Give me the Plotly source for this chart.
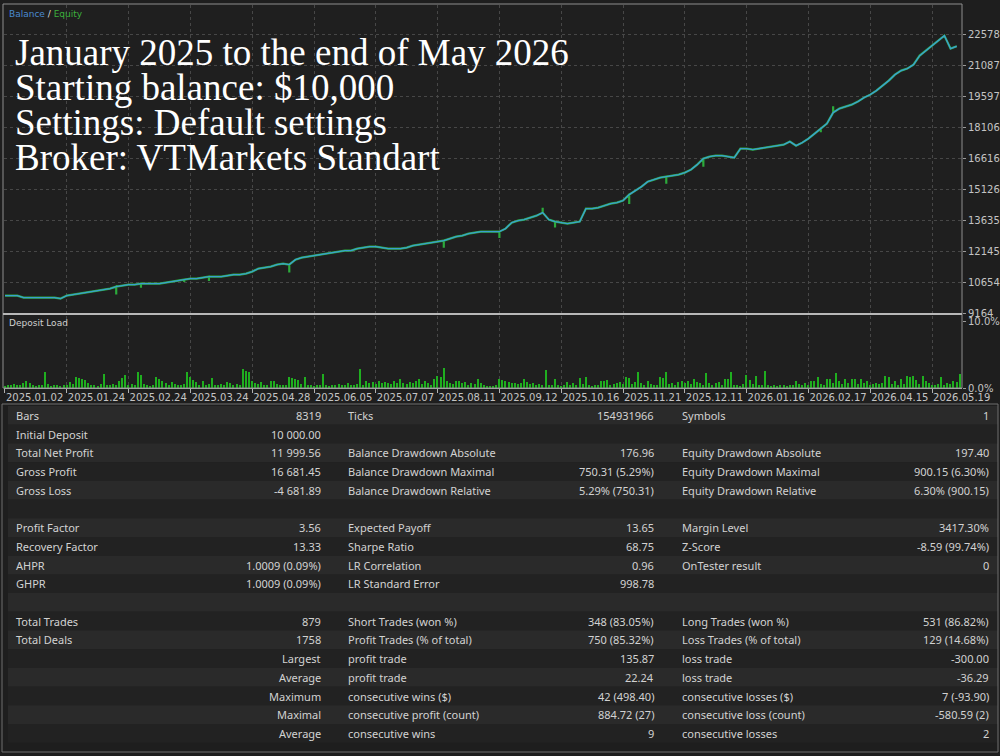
import plotly.graph_objects as go

# balance curve, one point per step of the tester chart
balance = [
    10000, 10000, 10000, 9904, 9904, 9904, 9904, 9904, 9904, 9856,
    10000, 10048, 10096, 10144, 10192, 10240, 10288, 10337, 10433, 10481,
    10529, 10529, 10577, 10577, 10577, 10577, 10625, 10673, 10721, 10769,
    10817, 10817, 10865, 10913, 10913, 10913, 10962, 11010, 11010, 11058,
    11154, 11298, 11346, 11394, 11490, 11539, 11490, 11731, 11827, 11875,
    11923, 11971, 12019, 12067, 12115, 12164, 12164, 12260, 12308, 12356,
    12356, 12308, 12260, 12260, 12260, 12308, 12404, 12452, 12500, 12548,
    12596, 12644, 12741, 12837, 12885, 12981, 13029, 13077, 13077, 13077,
    13077, 13221, 13510, 13606, 13654, 13750, 13846, 13990, 13654, 13558,
    13510, 13462, 13510, 13558, 14183, 14183, 14231, 14327, 14423, 14471,
    14568, 14856, 15048, 15241, 15481, 15577, 15673, 15721, 15770, 15818,
    15914, 16058, 16298, 16587, 16683, 16731, 16731, 16683, 16635, 17068,
    17068, 17020, 17068, 17116, 17164, 17212, 17260, 17404, 17212, 17356,
    17549, 17789, 18029, 18270, 18799, 18991, 19087, 19183, 19328, 19520,
    19664, 19856, 20097, 20337, 20625, 20818, 20914, 21106, 21539, 21779,
    22020, 22260, 22500, 21875, 21990,
]

# equity spikes away from balance (step index, equity value)
equity_dip_idx = [18, 22, 29, 33, 46, 71, 80, 87, 89, 101, 107, 113, 132, 134]
equity_dip_val = [10050, 10380, 10650, 10700, 11110, 12300, 12770, 14230,
                  13270, 14400, 15380, 16200, 17850, 19100]

# deposit load in %, two bars per step
deposit_load = [
    0.3, 0.5, 0.4, 0.6, 0.5, 0.4, 0.8, 1.0, 0.7, 0.4, 0.3, 0.5, 0.4, 2.4, 0.6, 0.3, 0.4, 0.5, 0.3, 0.4,
    0.5, 0.9, 0.6, 1.7, 1.5, 1.3, 1.2, 0.8, 0.4, 0.5, 0.3, 0.6, 2.1, 0.5, 0.4, 0.6, 0.5, 1.0, 1.5, 1.9,
    0.4, 0.6, 0.5, 2.4, 1.9, 0.6, 0.4, 0.3, 0.5, 1.6, 1.4, 1.0, 0.8, 0.5, 0.9, 0.6, 0.4, 0.5, 0.6, 2.4,
    1.7, 1.2, 0.9, 0.5, 1.0, 0.4, 0.6, 1.5, 0.5, 0.4, 0.6, 0.4, 0.9, 0.7, 0.5, 0.6, 0.4, 2.9, 2.6, 2.4,
    1.0, 0.8, 0.6, 0.9, 0.5, 0.4, 1.0, 1.1, 0.6, 0.5, 0.4, 0.5, 1.7, 1.5, 1.3, 1.2, 0.6, 1.6, 0.4, 0.5,
    0.3, 0.4, 0.5, 2.1, 0.4, 0.3, 0.5, 0.4, 0.6, 0.5, 0.4, 0.8, 0.5, 0.4, 0.6, 2.9, 0.5, 1.0, 0.8, 0.9,
    0.6, 1.0, 0.7, 0.9, 0.8, 0.6, 1.0, 0.7, 1.4, 0.8, 0.6, 0.9, 0.7, 1.0, 1.4, 0.6, 1.1, 0.8, 0.5, 1.4,
    1.8, 1.6, 3.0, 1.0, 0.8, 0.6, 1.0, 1.1, 0.7, 0.9, 0.5, 0.8, 0.6, 1.3, 0.7, 0.4, 0.3, 0.2, 0.3, 0.4,
    1.3, 1.2, 1.1, 0.9, 0.7, 0.8, 0.6, 0.8, 1.4, 0.9, 0.6, 0.8, 0.5, 0.6, 0.4, 2.7, 0.5, 0.4, 1.4, 0.5,
    0.3, 0.4, 0.9, 0.5, 0.7, 0.4, 1.5, 0.6, 1.6, 0.4, 0.3, 0.4, 0.5, 1.1, 1.0, 1.2, 0.5, 0.6, 0.8, 0.9,
    0.6, 1.7, 1.5, 0.6, 0.9, 2.4, 0.8, 0.5, 1.0, 0.6, 0.5, 0.4, 1.6, 1.5, 2.4, 0.6, 0.8, 0.5, 0.9, 1.0,
    0.7, 1.0, 0.6, 1.3, 0.9, 0.8, 0.5, 2.2, 0.8, 0.5, 0.8, 0.9, 0.4, 1.4, 1.3, 2.4, 0.5, 0.4, 0.3, 0.6,
    2.0, 1.2, 0.6, 1.8, 0.5, 0.4, 2.6, 0.4, 0.3, 0.4, 0.3, 0.5, 0.4, 0.3, 0.4, 0.5, 1.0, 0.6, 0.4, 0.8,
    0.5, 1.0, 1.1, 1.6, 0.6, 0.5, 1.4, 1.3, 0.7, 2.2, 1.0, 0.6, 1.4, 0.7, 1.3, 1.4, 0.6, 1.4, 0.8, 1.0,
    0.5, 0.6, 0.8, 0.6, 0.7, 1.8, 1.7, 0.6, 1.0, 0.5, 1.3, 0.6, 1.8, 1.6, 1.8, 1.2, 0.6, 1.8, 1.0, 0.7,
    0.4, 0.5, 0.6, 1.7, 0.5, 0.8, 0.6, 1.0, 0.9, 2.1,
]

date_labels = ["2025.01.02", "2025.01.24", "2025.02.24", "2025.03.24", "2025.04.28",
               "2025.06.05", "2025.07.07", "2025.08.11", "2025.09.12", "2025.10.16",
               "2025.11.21", "2025.12.11", "2026.01.16", "2026.02.17", "2026.04.15",
               "2026.05.19"]
balance_ticks = [9164, 10654, 12145, 13635, 15126, 16616, 18106, 19597, 21087, 22578]

title_lines = ["January 2025 to the end of May 2026", "Starting balance: $10,000",
               "Settings: Default settings", "Broker: VTMarkets Standart"]

# report table, 3 label/value column pairs
col1_labels = ["Bars", "Initial Deposit", "Total Net Profit", "Gross Profit", "Gross Loss", "",
               "Profit Factor", "Recovery Factor", "AHPR", "GHPR", "",
               "Total Trades", "Total Deals", "", "", "", "", ""]
col1_values = ["8319", "10 000.00", "11 999.56", "16 681.45", "-4 681.89", "",
               "3.56", "13.33", "1.0009 (0.09%)", "1.0009 (0.09%)", "",
               "879", "1758", "Largest", "Average", "Maximum", "Maximal", "Average"]
col2_labels = ["Ticks", "", "Balance Drawdown Absolute", "Balance Drawdown Maximal",
               "Balance Drawdown Relative", "", "Expected Payoff", "Sharpe Ratio",
               "LR Correlation", "LR Standard Error", "", "Short Trades (won %)",
               "Profit Trades (% of total)", "profit trade", "profit trade",
               "consecutive wins ($)", "consecutive profit (count)", "consecutive wins"]
col2_values = ["154931966", "", "176.96", "750.31 (5.29%)", "5.29% (750.31)", "",
               "13.65", "68.75", "0.96", "998.78", "", "348 (83.05%)", "750 (85.32%)",
               "135.87", "22.24", "42 (498.40)", "884.72 (27)", "9"]
col3_labels = ["Symbols", "", "Equity Drawdown Absolute", "Equity Drawdown Maximal",
               "Equity Drawdown Relative", "", "Margin Level", "Z-Score", "OnTester result",
               "", "", "Long Trades (won %)", "Loss Trades (% of total)", "loss trade",
               "loss trade", "consecutive losses ($)", "consecutive loss (count)",
               "consecutive losses"]
col3_values = ["1", "", "197.40", "900.15 (6.30%)", "6.30% (900.15)", "",
               "3417.30%", "-8.59 (99.74%)", "0", "", "", "531 (86.82%)", "129 (14.68%)",
               "-300.00", "-36.29", "7 (-93.90)", "-580.59 (2)", "2"]

W, H = 1000, 756
BG = "#1e1e1e"
TXT = "#d2d2d2"
AXTXT = "#c4c4c4"


def px(x):
    return x / W


def py(y):
    return 1 - y / H


# equity = balance plus thin vertical spikes
dips = dict(zip(equity_dip_idx, equity_dip_val))
eq_x, eq_y = [], []
for i, b in enumerate(balance):
    eq_x.append(i)
    eq_y.append(b)
    if i in dips:
        eq_x += [i, i]
        eq_y += [dips[i], b]

x_range = [-0.16, 154.85]
tick_idx = [10 * k for k in range(len(date_labels))]

fig = go.Figure()
fig.add_trace(go.Scatter(x=eq_x, y=eq_y, mode="lines", line=dict(color="#2caa3c", width=2.2),
                         hoverinfo="skip", xaxis="x", yaxis="y"))
fig.add_trace(go.Scatter(x=list(range(len(balance))), y=balance, mode="lines",
                         line=dict(color="#3a9fd0", width=1.4), xaxis="x", yaxis="y"))
fig.add_trace(go.Bar(x=[0.5 * i for i in range(len(deposit_load))], y=deposit_load, width=0.22,
                     marker=dict(color="#1fae1f", line=dict(width=0)), xaxis="x2", yaxis="y2"))

grid = dict(showgrid=True, gridcolor="#474747", griddash="dot", gridwidth=1, zeroline=False,
            automargin=False)

fig.update_layout(
    width=W, height=H, margin=dict(l=0, r=0, t=0, b=0, autoexpand=False),
    paper_bgcolor=BG, plot_bgcolor="#1f1f1f", showlegend=False, bargap=0,
    font=dict(family="DejaVu Sans", color=AXTXT, size=10),
    xaxis=dict(domain=[px(4), px(962)], range=x_range, tickvals=tick_idx, showticklabels=False,
               anchor="y", **grid),
    yaxis=dict(domain=[py(313), py(5)], range=[9164, 23973], tickvals=balance_ticks, side="right",
               tickformat="d", ticks="outside", ticklen=3, tickcolor="#9a9a9a",
               tickfont=dict(size=10, color=AXTXT), anchor="x", **grid),
    xaxis2=dict(domain=[px(4), px(962)], range=x_range, tickvals=tick_idx, ticktext=date_labels,
                ticks="outside", ticklen=4, tickcolor="#b0b0b0", ticklabelposition="outside right",
                tickangle=0, tickfont=dict(size=10, color=AXTXT), showline=True, linecolor="#b4b4b4",
                linewidth=1, anchor="y2", **grid),
    yaxis2=dict(domain=[py(388), py(316)], range=[0, 10.75], tickvals=[0, 10],
                ticktext=["0.0%", "10.0%"], side="right", ticks="outside", ticklen=3,
                tickcolor="#9a9a9a", showgrid=False, zeroline=False, anchor="x2", automargin=False,
                tickfont=dict(size=10, color=AXTXT)),
)

shapes = [
    # chart frame and separator between the two panes
    dict(type="rect", xref="paper", yref="paper", x0=px(3), x1=px(962), y0=py(388), y1=py(4),
         line=dict(color="#8e8e8e", width=1)),
    dict(type="line", xref="paper", yref="paper", x0=px(3), x1=px(962), y0=py(314), y1=py(314),
         line=dict(color="#b8b8b8", width=2)),
]

row_top, row_h = 406, 18.71
n_rows = len(col1_labels)
for r in range(n_rows):
    shapes.append(dict(type="rect", xref="paper", yref="paper", layer="below",
                       x0=px(8), x1=px(998), y0=py(row_top + row_h * (r + 1)), y1=py(row_top + row_h * r),
                       fillcolor="#2a2a2a" if r % 2 == 0 else "#222222", line=dict(width=0)))
shapes.append(dict(type="rect", xref="paper", yref="paper", x0=px(2), x1=px(998),
                   y0=py(752), y1=py(404), line=dict(color="#6e6e6e", width=1)))

ann = []
tfont = dict(family="Liberation Serif", size=37, color="#ffffff")
for k, line in enumerate(title_lines):
    ann.append(dict(xref="paper", yref="paper", x=px(13), y=py(52 + 35 * k), text=line,
                    showarrow=False, xanchor="left", yanchor="middle", font=tfont))

ann.append(dict(xref="paper", yref="paper", x=px(7), y=py(14), showarrow=False, xanchor="left",
                yanchor="middle", font=dict(size=9, family="DejaVu Sans"),
                text="<span style='color:#4a8ad0'>Balance</span><span style='color:#dddddd'> / </span>"
                     "<span style='color:#3cb03c'>Equity</span>"))
ann.append(dict(xref="paper", yref="paper", x=px(7), y=py(323), text="Deposit Load", showarrow=False,
                xanchor="left", yanchor="middle", font=dict(size=9, family="DejaVu Sans", color="#d0d0d0")))

cfont = dict(family="Noto Sans", size=11, color=TXT)
columns = [(col1_labels, 14, "left"), (col1_values, 323, "right"),
           (col2_labels, 346, "left"), (col2_values, 656, "right"),
           (col3_labels, 680, "left"), (col3_values, 991, "right")]
for texts, xpos, anchor in columns:
    for r, t in enumerate(texts):
        if not t:
            continue
        ann.append(dict(xref="paper", yref="paper", x=px(xpos), y=py(row_top + row_h * (r + 0.5)),
                        text=t, showarrow=False, xanchor=anchor, yanchor="middle", font=cfont))

fig.update_layout(shapes=shapes, annotations=ann)
# page margin off so the 1000x756 figure fills the window exactly
fig.write_html("out.html", config={"displayModeBar": False},
               post_script="document.body.style.margin='0';"
                           "document.body.style.background='#1e1e1e';")
